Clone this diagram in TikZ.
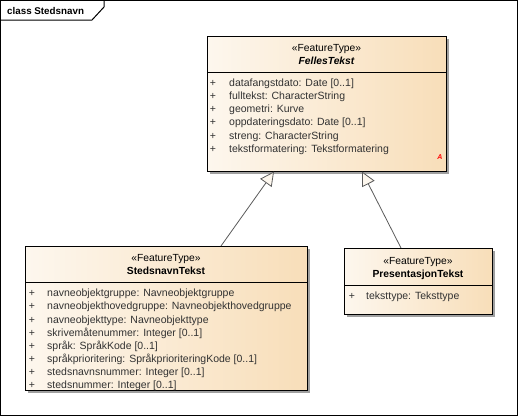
\documentclass[tikz,border=0pt]{standalone}
\usepackage{fontspec}
\setmainfont{Liberation Sans}
\usetikzlibrary{arrows.meta}
\definecolor{boxL}{RGB}{253,247,238}
\definecolor{boxR}{RGB}{248,222,185}
\definecolor{attr}{RGB}{50,50,50}
\definecolor{shad}{RGB}{160,160,160}
\definecolor{conn}{RGB}{90,90,90}
\tikzset{
  x=1pt, y=-1pt,
  umlbox/.style={draw=black, line width=1pt, left color=boxL, right color=boxR, anchor=north west, inner sep=0pt, outer sep=0pt},
  shadowbox/.style={fill=shad, draw=none, anchor=north west, inner sep=0pt, outer sep=0pt},
  stereo/.style={font=\fontsize{10.3}{12}\selectfont, inner sep=0pt, anchor=base},
  cname/.style={font=\fontsize{10.3}{12}\selectfont\bfseries, inner sep=0pt, anchor=base},
  attrtext/.style={font=\fontsize{10.5}{12}\selectfont, text=attr, inner sep=0pt, anchor=base west},
  plus/.style={font=\fontsize{10.5}{12}\selectfont, text=attr, inner sep=0pt, anchor=base},
  gen/.style={draw=conn, line width=0.8pt, -{Triangle[open, length=14pt, width=14pt, fill=boxL]}},
}
\begin{document}
\begin{tikzpicture}
\useasboundingbox (0,0) rectangle (518,416);
% frame
\draw[line width=1pt] (0.5,0.5) rectangle (517,415);
\draw[line width=1pt] (0.5,20) -- (92,20) -- (104,7) -- (104,0.5);
\node[font=\fontsize{9.8}{12}\selectfont\bfseries, anchor=base west, inner sep=0pt] (title) at (7,14) {class Stedsnavn};

% FellesTekst
\node[shadowbox, minimum width=239pt, minimum height=135pt] (fshadow) at (210,39) {};
\node[umlbox, minimum width=239pt, minimum height=135pt] (felles) at (207,36) {};
\draw[line width=1pt] (207,72) -- (446,72);
\node[stereo] (fst) at (326.5,51) {«FeatureType»};
\node[cname, font=\fontsize{10.3}{12}\selectfont\bfseries\itshape] (fname) at (326.5,64.5) {FellesTekst};
\foreach \t [count=\i from 0] in {datafangstdato: Date [0..1], fulltekst: CharacterString, geometri: Kurve, oppdateringsdato: Date [0..1], streng: CharacterString, tekstformatering: Tekstformatering}{
  \node[plus] (fp\i) at (213,86+13.3*\i) {+};
  \node[attrtext] (fa\i) at (229,86+13.3*\i) {\t};
}
\node[font=\fontsize{7}{8}\selectfont\bfseries\itshape, text=red, inner sep=0pt] (abs) at (440,157) {A};

% StedsnavnTekst
\node[shadowbox, minimum width=282pt, minimum height=144pt] (sshadow) at (28,249) {};
\node[umlbox, minimum width=282pt, minimum height=144pt] (sted) at (25,246) {};
\draw[line width=1pt] (25,282) -- (307,282);
\node[stereo] (sst) at (166,261) {«FeatureType»};
\node[cname] (sname) at (166,274.5) {StedsnavnTekst};
\foreach \t [count=\i from 0] in {navneobjektgruppe: Navneobjektgruppe, navneobjekthovedgruppe: Navneobjekthovedgruppe, navneobjekttype: Navneobjekttype, skrivemåtenummer: Integer [0..1], språk: SpråkKode [0..1], språkprioritering: SpråkprioriteringKode [0..1], stedsnavnsnummer: Integer [0..1], stedsnummer: Integer [0..1]}{
  \node[plus] (sp\i) at (32,296.8+13.1*\i) {+};
  \node[attrtext] (sa\i) at (47,296.8+13.1*\i) {\t};
}

% PresentasjonTekst
\node[shadowbox, minimum width=148pt, minimum height=66pt] (pshadow) at (347,251) {};
\node[umlbox, minimum width=148pt, minimum height=66pt] (pres) at (344,248) {};
\draw[line width=1pt] (344,285) -- (492,285);
\node[stereo] (pst) at (418,264) {«FeatureType»};
\node[cname] (pname) at (418,277) {PresentasjonTekst};
\node[plus] (pp0) at (352,299) {+};
\node[attrtext] (pa0) at (366,299) {teksttype: Teksttype};

% generalizations
\coordinate (s1) at (221,246);
\coordinate (f1) at (274,171.5);
\coordinate (p1) at (401,248);
\coordinate (f2) at (362,171.5);
\draw[gen] (s1) -- (f1);
\draw[gen] (p1) -- (f2);
\end{tikzpicture}
\end{document}
